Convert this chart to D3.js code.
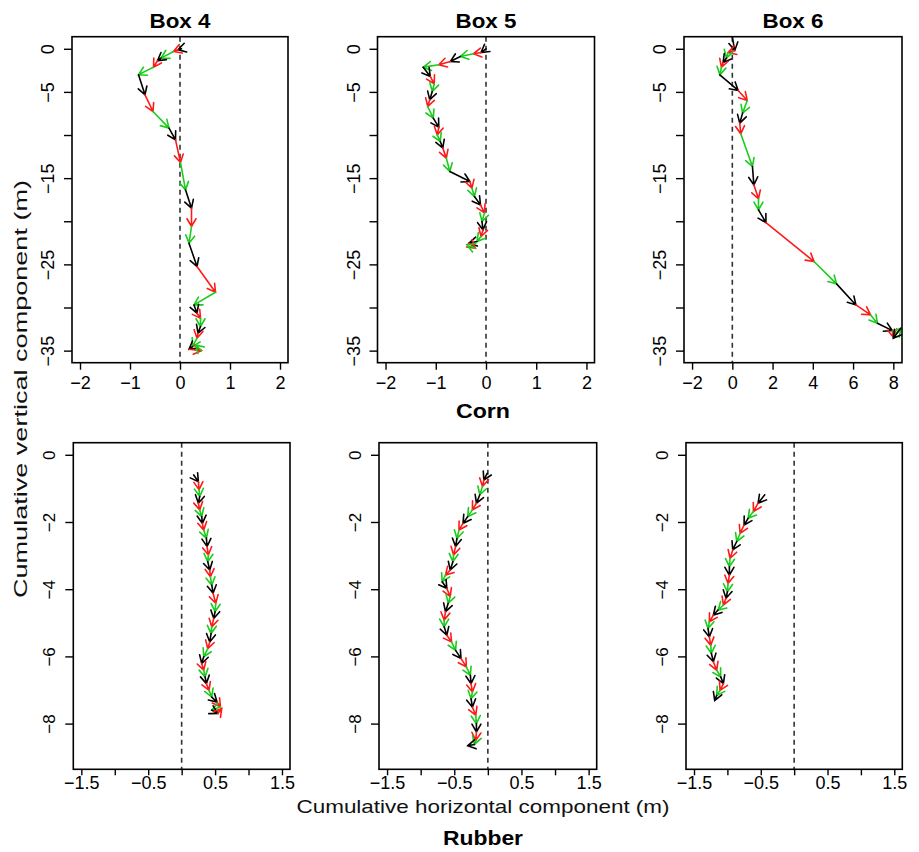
<!DOCTYPE html>
<html><head><meta charset="utf-8">
<script src="https://cdn.jsdelivr.net/npm/d3@7"></script>
<style>body{margin:0;background:#fff}svg{display:block}</style>
</head><body>
<svg id="c" width="919" height="852"></svg>
<script>
// ---------- data (cumulative horizontal x, cumulative vertical y, in m) ----------
const corn4X = [0.03,-0.04,-0.13,-0.38,-0.45,-0.53,-0.83,-0.70,-0.54,-0.22,-0.09,0.01,0.11,0.23,0.23,0.18,0.34,0.71,0.28,0.34,0.41,0.41,0.36,0.34,0.25,0.18,0.43,0.31];
const corn4Y = [0.0,-0.12,-0.31,-1.08,-1.39,-2.13,-3.02,-5.34,-7.27,-9.20,-10.56,-13.19,-16.36,-18.48,-20.61,-22.54,-25.25,-28.23,-29.70,-30.66,-31.24,-32.21,-32.98,-33.56,-34.53,-34.84,-35.0,-34.34];
const corn5X = [0.0,-0.10,-0.25,-0.51,-0.71,-0.94,-1.25,-1.11,-1.03,-1.07,-1.12,-1.16,-1.05,-0.94,-0.97,-0.91,-0.86,-0.79,-0.72,-0.32,-0.28,-0.23,-0.11,-0.03,-0.08,-0.06,-0.10,-0.18,-0.34,-0.21,-0.38];
const corn5Y = [0.0,-0.43,-0.58,-0.89,-1.47,-1.86,-2.13,-3.21,-4.06,-4.95,-5.92,-6.69,-8.04,-9.09,-9.98,-10.75,-11.52,-12.68,-14.23,-15.39,-16.16,-17.13,-18.10,-19.03,-20.03,-21.00,-21.77,-22.35,-22.54,-23.12,-22.74];
const corn6X = [-0.02,0.12,-0.21,-0.29,-0.46,-0.54,-0.62,0.29,0.74,0.51,0.37,0.42,1.00,1.07,1.30,1.30,1.67,4.06,5.18,6.14,6.87,7.21,7.95,8.00,8.37,8.00];
const corn6Y = [1.62,-0.19,-0.43,-1.08,-1.59,-2.13,-3.02,-4.83,-5.99,-7.46,-8.62,-9.86,-13.65,-15.78,-17.40,-18.68,-20.15,-24.67,-27.26,-29.70,-30.86,-31.83,-32.68,-33.45,-32.41,-33.56];
const rub4X = [0.18,0.25,0.26,0.27,0.25,0.27,0.30,0.31,0.33,0.37,0.38,0.40,0.39,0.42,0.43,0.45,0.47,0.51,0.50,0.48,0.45,0.44,0.42,0.39,0.33,0.30,0.33,0.35,0.37,0.41,0.45,0.53,0.58,0.45,0.54,0.60];
const rub4Y = [-0.60,-0.80,-1.04,-1.24,-1.44,-1.64,-1.84,-2.04,-2.24,-2.48,-2.73,-2.98,-3.18,-3.43,-3.63,-3.88,-4.12,-4.42,-4.67,-4.87,-5.12,-5.32,-5.57,-5.77,-6.01,-6.21,-6.41,-6.61,-6.81,-7.01,-7.21,-7.36,-7.50,-7.60,-7.70,-7.55];
const rub5X = [-0.01,-0.06,-0.08,-0.12,-0.17,-0.23,-0.30,-0.37,-0.43,-0.46,-0.48,-0.51,-0.52,-0.56,-0.63,-0.68,-0.61,-0.56,-0.59,-0.63,-0.65,-0.65,-0.61,-0.54,-0.48,-0.40,-0.32,-0.26,-0.25,-0.23,-0.25,-0.23,-0.18,-0.17,-0.17,-0.18,-0.20,-0.30];
const rub5Y = [-0.55,-0.75,-0.94,-1.19,-1.44,-1.64,-1.84,-2.04,-2.24,-2.49,-2.73,-2.98,-3.18,-3.43,-3.58,-3.78,-3.98,-4.22,-4.42,-4.67,-4.92,-5.12,-5.37,-5.57,-5.82,-6.06,-6.31,-6.56,-6.81,-7.06,-7.26,-7.51,-7.75,-8.00,-8.25,-8.50,-8.62,-8.66];
const rub6X = [-0.44,-0.54,-0.61,-0.69,-0.75,-0.81,-0.86,-0.92,-0.96,-0.97,-0.97,-0.99,-1.00,-1.02,-1.06,-1.14,-1.21,-1.27,-1.29,-1.27,-1.25,-1.24,-1.21,-1.16,-1.10,-1.06,-1.11,-1.16,-1.19];
const rub6Y = [-1.19,-1.44,-1.69,-1.89,-2.09,-2.34,-2.58,-2.83,-3.08,-3.33,-3.58,-3.83,-4.08,-4.27,-4.47,-4.62,-4.77,-4.97,-5.17,-5.42,-5.67,-5.91,-6.16,-6.41,-6.61,-6.81,-7.01,-7.16,-7.31];

const boxTitles = ["Box 4","Box 5","Box 6"];
const rowTitles = ["Corn","Rubber"];
const segColors = ["#000000","#ff1a1a","#1ccc1c"];

// axis ticks / limits
const cornXLim = [-2, 2], cornXTicks = [-2,-1,0,1,2];
const corn6XLim = [-2, 8.03], corn6XTicks = [-2,0,2,4,6,8];
const cornYLim = [-35, 0], cornYTicks = [0,-5,-10,-15,-20,-25,-30,-35], cornYLabels = [0,-5,-15,-25,-35];
const rubXLim = [-1.5, 1.5], rubXTicks = [-1.5,-1,-0.5,0,0.5,1,1.5], rubXLabels = [-1.5,-0.5,0.5,1.5];
const rubYLim = [-9, 0], rubYTicks = [0,-2,-4,-6,-8];

// ---------- layout ----------
const FONT = "'Liberation Sans', Arial, Helvetica, sans-serif";
const colL = [[72,288],[377.5,594.5],[684,902]];
const colLb = [[73.3,290],[379,596.7],[686,902.3]];
const rowTB = [[36.7,362.7],[442.7,769.3]];

const panels = [
  {xs:corn4X, ys:corn4Y, xlim:cornXLim, xt:cornXTicks, xl:cornXTicks, ylim:cornYLim, yt:cornYTicks, yl:cornYLabels, row:0, col:0},
  {xs:corn5X, ys:corn5Y, xlim:cornXLim, xt:cornXTicks, xl:cornXTicks, ylim:cornYLim, yt:cornYTicks, yl:cornYLabels, row:0, col:1},
  {xs:corn6X, ys:corn6Y, xlim:corn6XLim, xt:corn6XTicks, xl:corn6XTicks, ylim:cornYLim, yt:cornYTicks, yl:cornYLabels, row:0, col:2},
  {xs:rub4X, ys:rub4Y, xlim:rubXLim, xt:rubXTicks, xl:rubXLabels, ylim:rubYLim, yt:rubYTicks, yl:rubYTicks, row:1, col:0},
  {xs:rub5X, ys:rub5Y, xlim:rubXLim, xt:rubXTicks, xl:rubXLabels, ylim:rubYLim, yt:rubYTicks, yl:rubYTicks, row:1, col:1},
  {xs:rub6X, ys:rub6Y, xlim:rubXLim, xt:rubXTicks, xl:rubXLabels, ylim:rubYLim, yt:rubYTicks, yl:rubYTicks, row:1, col:2},
];

const svg = d3.select("#c");
const expand = l => { const d = (l[1]-l[0])*0.04; return [l[0]-d, l[1]+d]; };
const fmt = v => String(v).replace("-", "\u2212");

panels.forEach((p, k) => {
  const [L, R] = p.row === 0 ? colL[p.col] : colLb[p.col];
  const [T, B] = rowTB[p.row];
  const x = d3.scaleLinear().domain(expand(p.xlim)).range([L, R]);
  const y = d3.scaleLinear().domain(expand(p.ylim)).range([B, T]);
  const g = svg.append("g");
  const cid = "clip" + k;
  svg.append("clipPath").attr("id", cid).append("rect")
    .attr("x", L).attr("y", T).attr("width", R-L).attr("height", B-T);

  // zero reference line
  g.append("line").attr("x1", x(0)).attr("x2", x(0)).attr("y1", T).attr("y2", B)
    .attr("stroke", "#333").attr("stroke-width", 1.6).attr("stroke-dasharray", "5,4");

  // arrows
  const ag = g.append("g").attr("clip-path", `url(#${cid})`)
    .attr("fill", "none").attr("stroke-width", 1.6).attr("stroke-linecap", "round");
  const segs = d3.range(p.xs.length - 1).map(i => ({i,
    x0: x(p.xs[i]), y0: y(p.ys[i]), x1: x(p.xs[i+1]), y1: y(p.ys[i+1])}));
  const len = 9, ang = Math.PI/6;
  ag.selectAll("path").data(segs).join("path")
    .attr("stroke", d => segColors[d.i % 3])
    .attr("d", d => {
      const a = Math.atan2(d.y1 - d.y0, d.x1 - d.x0);
      const h1x = d.x1 - len*Math.cos(a - ang), h1y = d.y1 - len*Math.sin(a - ang);
      const h2x = d.x1 - len*Math.cos(a + ang), h2y = d.y1 - len*Math.sin(a + ang);
      return `M${d.x0},${d.y0}L${d.x1},${d.y1}M${h1x},${h1y}L${d.x1},${d.y1}L${h2x},${h2y}`;
    });

  // box
  g.append("rect").attr("x", L).attr("y", T).attr("width", R-L).attr("height", B-T)
    .attr("fill", "none").attr("stroke", "#000").attr("stroke-width", 1.6);

  const fs = 18;
  // x axis
  const xa = g.append("g").attr("transform", `translate(0,${B})`)
    .call(d3.axisBottom(x).tickValues(p.xt).tickSize(p.row === 0 ? 7 : 6).tickSizeOuter(0)
      .tickPadding(p.row === 0 ? 7 : 0.5)
      .tickFormat(v => p.xl.includes(v) ? fmt(v) : ""));
  xa.select(".domain").remove();
  xa.attr("font-family", FONT).attr("font-size", fs);
  xa.selectAll(".tick line").attr("stroke", "#000").attr("stroke-width", 1.4);
  xa.selectAll(".tick text").attr("fill", "#000");

  // y axis
  const ya = g.append("g").attr("transform", `translate(${L},0)`)
    .call(d3.axisLeft(y).tickValues(p.yt).tickSize(8).tickSizeOuter(0)
      .tickFormat(v => p.yl.includes(v) ? fmt(v) : ""));
  ya.select(".domain").remove();
  ya.attr("font-family", FONT).attr("font-size", p.row === 0 ? 18 : 17);
  ya.selectAll(".tick line").attr("stroke", "#000").attr("stroke-width", 1.4);
  ya.selectAll(".tick text").attr("fill", "#000")
    .attr("transform", "rotate(-90)").attr("x", 0).attr("y", -18).attr("dy", 0)
    .attr("text-anchor", "middle");

  if (p.row === 0) {
    svg.append("text").attr("x", (L+R)/2).attr("y", 28.3).attr("text-anchor", "middle")
      .attr("font-family", FONT).attr("font-weight", "bold").attr("font-size", 21)
      .attr("textLength", 61).attr("lengthAdjust", "spacingAndGlyphs")
      .text(boxTitles[p.col]);
  }
});

// row titles and axis labels
svg.append("text").attr("x", 483).attr("y", 418).attr("text-anchor", "middle")
  .attr("font-family", FONT).attr("font-weight", "bold").attr("font-size", 20)
  .attr("textLength", 54).attr("lengthAdjust", "spacingAndGlyphs").text(rowTitles[0]);
svg.append("text").attr("x", 483).attr("y", 845).attr("text-anchor", "middle")
  .attr("font-family", FONT).attr("font-weight", "bold").attr("font-size", 20)
  .attr("textLength", 80).attr("lengthAdjust", "spacingAndGlyphs").text(rowTitles[1]);
svg.append("text").attr("x", 483).attr("y", 813).attr("text-anchor", "middle")
  .attr("font-family", FONT).attr("font-size", 19).attr("fill", "#111")
  .attr("textLength", 373).attr("lengthAdjust", "spacingAndGlyphs")
  .text("Cumulative horizontal component (m)");
svg.append("text").attr("transform", "translate(27,389) rotate(-90)").attr("text-anchor", "middle")
  .attr("font-family", FONT).attr("font-size", 19).attr("fill", "#111")
  .attr("textLength", 418).attr("lengthAdjust", "spacingAndGlyphs")
  .text("Cumulative vertical component (m)");
</script>
</body></html>
